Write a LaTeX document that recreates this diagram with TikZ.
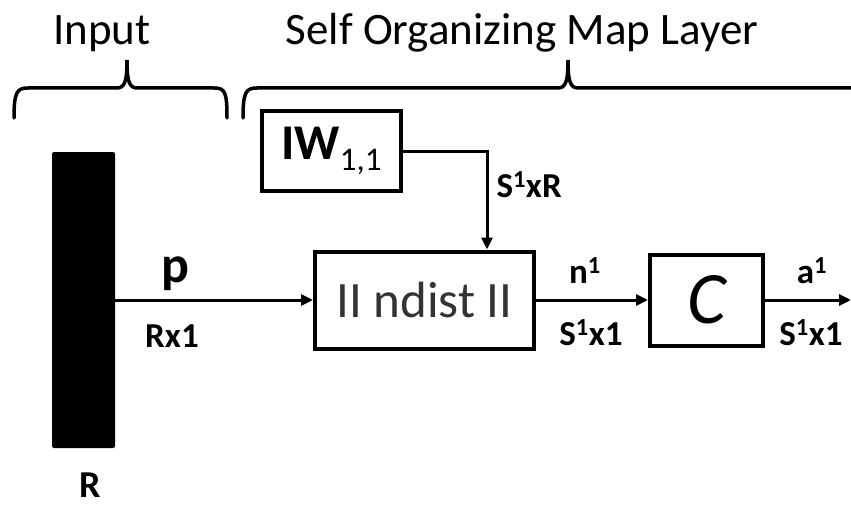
\documentclass[tikz,border=0pt]{standalone}
\usepackage{fontspec}
\setmainfont{Carlito}
\usetikzlibrary{arrows.meta,positioning}

\tikzset{
  blockbox/.style={draw, line width=4pt, inner sep=0pt},
  wire/.style={line width=3pt, -{Triangle[length=12pt,width=11pt]}},
  brace/.style={line width=3.5pt, line cap=round},
  title/.style={font=\fontsize{45}{52}\selectfont, anchor=base},
  lbl/.style={font=\fontsize{35}{40}\selectfont\bfseries, anchor=base}
}

\begin{document}
\begin{tikzpicture}[x=1pt, y=-1pt]
    \useasboundingbox (0,0) rectangle (851,508);

    % titles
    \node[title] (intitle) at (102,45) {Input};
    \node[title] (somtitle) at (522,45) {Self Organizing Map Layer};

    % braces
    \draw[brace] (14,118) .. controls (14,92) and (17,88) .. (28,88) -- (116,88)
        .. controls (124,88) and (127,84) .. (127,60)
        .. controls (127,84) and (130,88) .. (138,88) -- (214,88)
        .. controls (225,88) and (227,92) .. (227,118);
    \draw[brace] (243,118) .. controls (243,92) and (246,88) .. (257,88) -- (557,88)
        .. controls (565,88) and (568,84) .. (568,60)
        .. controls (568,84) and (571,88) .. (579,88) -- (860,88);

    % input vector
    \node[fill=black, inner sep=0pt, minimum width=63pt, minimum height=296pt,
          rounded corners=2pt] (bar) at (83.5,300) {};
    \node[lbl, font=\fontsize{38}{44}\selectfont\bfseries] (rlbl) at (90,497) {R};

    % blocks
    \node[blockbox, minimum width=139pt, minimum height=80pt] (iw) at (331.5,151)
        {\fontsize{50}{56}\selectfont\textbf{IW}\raisebox{-11pt}{\fontsize{33}{38}\selectfont 1,1}};
    \node[blockbox, minimum width=219pt, minimum height=97pt] (nd) at (424.5,300)
        {\color{black!80}\fontsize{51}{56}\selectfont II ndist II};
    \node[blockbox, minimum width=113pt, minimum height=91pt] (cb) at (706.5,300)
        {\fontsize{74}{78}\selectfont\itshape C};
    \coordinate (out) at (851,300);

    % connections
    \draw[wire] (bar.east) -- (nd.west);
    \draw[wire] (iw.east) -| ([xshift=62.5pt]nd.north);
    \draw[wire] (nd.east) -- (cb.west);
    \draw[wire] (cb.east) -- (out);

    % labels
    \node[lbl, font=\fontsize{52}{58}\selectfont\bfseries] (plbl) at (175,282) {p};
    \node[lbl] (rxlbl) at (172,347) {Rx1};
    \node[lbl, anchor=base west] (srlbl) at (493,197) {S\textsuperscript{1}xR};
    \node[lbl] (nlbl) at (585,283) {n\textsuperscript{1}};
    \node[lbl] (s1lbl) at (591,345) {S\textsuperscript{1}x1};
    \node[lbl] (albl) at (812,283) {a\textsuperscript{1}};
    \node[lbl] (s2lbl) at (811,345) {S\textsuperscript{1}x1};
\end{tikzpicture}
\end{document}
